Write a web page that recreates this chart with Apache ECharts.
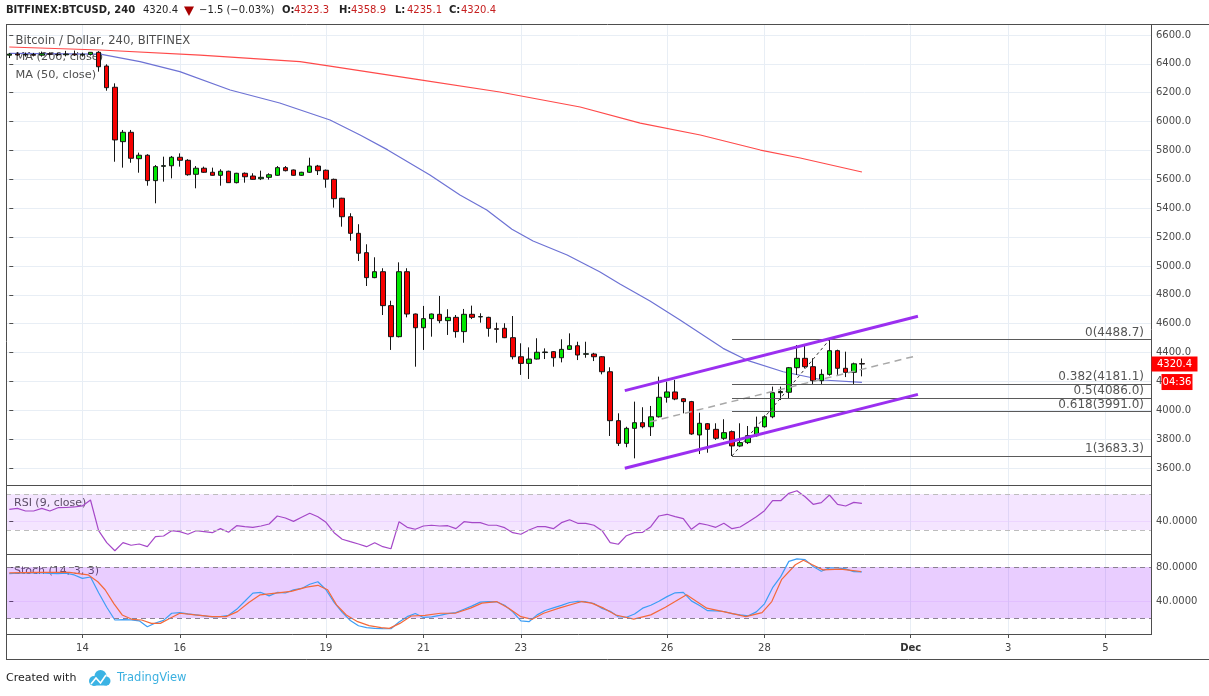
<!DOCTYPE html>
<html>
<head>
<meta charset="utf-8">
<script src="https://cdn.jsdelivr.net/npm/echarts@6/dist/echarts.min.js"></script>
<style>
  html, body { margin: 0; padding: 0; background: #fff; }
  #chart { width: 1209px; height: 696px; }
</style>
</head>
<body>
<div id="chart"></div>
<script>
// 4h candles, index 0 = Nov 12 12:00, index 105 = Nov 30 00:00. [open, high, low, close]
const ohlc = [
  [6460, 6475, 6440, 6468], [6468, 6480, 6455, 6462], [6462, 6478, 6450, 6465], [6465, 6476, 6452, 6460],
  [6460, 6485, 6450, 6470], [6470, 6480, 6458, 6466], [6466, 6475, 6455, 6463], [6463, 6490, 6452, 6468],
  [6468, 6492, 6455, 6462], [6462, 6478, 6450, 6466], [6466, 6482, 6458, 6480], [6480, 6488, 6346, 6380],
  [6385, 6397, 6214, 6235], [6238, 6265, 5722, 5873], [5861, 5942, 5681, 5926], [5926, 5942, 5715, 5746],
  [5743, 5785, 5646, 5767], [5767, 5774, 5556, 5591], [5591, 5699, 5434, 5688], [5690, 5757, 5584, 5695],
  [5694, 5762, 5607, 5753], [5753, 5780, 5688, 5732], [5732, 5740, 5625, 5632], [5635, 5692, 5538, 5677],
  [5677, 5688, 5645, 5649], [5649, 5681, 5625, 5628], [5628, 5670, 5556, 5656], [5656, 5660, 5575, 5577],
  [5577, 5645, 5572, 5642], [5642, 5648, 5577, 5618], [5623, 5642, 5598, 5600], [5604, 5660, 5595, 5614],
  [5614, 5642, 5598, 5632], [5628, 5692, 5625, 5681], [5681, 5692, 5655, 5660], [5665, 5668, 5625, 5628],
  [5628, 5652, 5624, 5649], [5649, 5750, 5645, 5692], [5692, 5700, 5630, 5660], [5663, 5668, 5542, 5601],
  [5600, 5605, 5404, 5466], [5469, 5472, 5272, 5341], [5341, 5365, 5175, 5226], [5226, 5289, 5034, 5088],
  [5092, 5150, 4861, 4919], [4919, 5060, 4915, 4960], [4960, 4984, 4660, 4725], [4725, 4759, 4418, 4510],
  [4510, 5025, 4505, 4960], [4960, 4984, 4644, 4667], [4667, 4670, 4302, 4572], [4572, 4723, 4418, 4635],
  [4635, 4670, 4510, 4667], [4665, 4792, 4603, 4621], [4621, 4700, 4522, 4644], [4644, 4660, 4503, 4545],
  [4545, 4702, 4468, 4665], [4665, 4725, 4632, 4644], [4647, 4672, 4607, 4649], [4644, 4648, 4510, 4568],
  [4565, 4607, 4468, 4561], [4568, 4603, 4500, 4503], [4503, 4653, 4353, 4371], [4371, 4464, 4245, 4325],
  [4325, 4436, 4217, 4355], [4355, 4499, 4352, 4402], [4400, 4429, 4355, 4404], [4406, 4410, 4302, 4364],
  [4364, 4492, 4332, 4422], [4422, 4533, 4418, 4447], [4447, 4475, 4348, 4383], [4388, 4475, 4364, 4392],
  [4390, 4398, 4341, 4371], [4371, 4375, 4249, 4267], [4267, 4298, 3822, 3928], [3928, 3979, 3753, 3771],
  [3771, 3886, 3744, 3875], [3875, 4060, 3667, 3914], [3914, 4021, 3875, 3886], [3886, 4030, 3822, 3955],
  [3955, 4233, 3950, 4090], [4090, 4198, 4053, 4127], [4127, 4210, 4070, 4078], [4080, 4085, 3979, 4060],
  [4060, 4065, 3830, 3836], [3829, 3983, 3697, 3910], [3907, 3912, 3706, 3868], [3868, 3910, 3794, 3806],
  [3806, 3938, 3795, 3845], [3852, 3860, 3683.3, 3753], [3753, 3910, 3745, 3776], [3776, 3891, 3766, 3824],
  [3824, 3956, 3818, 3882], [3886, 3965, 3880, 3955], [3955, 4164, 3945, 4122], [4122, 4164, 4071, 4130],
  [4125, 4300, 4078, 4295], [4295, 4452, 4245, 4360], [4360, 4452, 4290, 4302], [4302, 4360, 4182, 4205],
  [4205, 4284, 4175, 4249], [4249, 4488.7, 4240, 4413], [4413, 4420, 4245, 4291], [4291, 4406, 4230, 4263],
  [4263, 4330, 4182, 4321.9], [4323.3, 4358.9, 4235.1, 4320.4]
];

// moving averages: [candle index, price]
const ma200 = [[0, 6517], [11.2, 6496], [23.5, 6461], [35.8, 6415], [39.5, 6385], [50.2, 6293], [60.4, 6205],
  [70.3, 6101], [77.7, 5990], [85.1, 5907], [92.5, 5803], [97.4, 5748], [105, 5651]];
const ma50 = [[0, 6473], [11.2, 6468], [16.1, 6415], [21, 6346], [27.2, 6219], [33.3, 6129], [39.5, 6011],
  [43.2, 5907], [46.6, 5804], [51.8, 5630], [55.5, 5492], [58.8, 5388], [61.9, 5254], [64.5, 5173],
  [68.7, 5076], [72.7, 4960], [75.2, 4875], [78.9, 4757], [82.6, 4626], [87.9, 4429], [90.8, 4348],
  [95.3, 4267], [100.2, 4210], [105, 4194]];

// drawings
const channelUpper = [[75.8, 4136], [111.9, 4652]];
const channelLower = [[75.8, 3598], [111.9, 4110]];
const midTrend = [[78.9, 3920], [111.9, 4380]];
const fibFrom = 89, fibTo = 101;
const fibLevels = [0, 0.382, 0.5, 0.618, 1];
const fibPrices = [4488.7, 4181.1, 4086.0, 3991.0, 3683.3];

// indicators, one value per candle
const rsi = [
  53.1, 54.2, 51.3, 51.3, 54.2, 51.3, 55, 55.2, 55.8, 57,
  63.6, 29.2, 15.8, 6.8, 15.8, 12.9, 14.3, 11.3, 22.5, 23.3,
  29.2, 28.1, 25.2, 29.2, 28.1, 27, 31.5, 27.4, 34.8, 33.7,
  33, 34.5, 36.7, 45.7, 43.4, 39.7, 44.2, 48.7, 44.9, 38.6,
  27, 19.6, 16.9, 14.3, 11.3, 15.8, 11.3, 9.0, 39.3, 33,
  30.8, 34.5, 35.3, 34.5, 34.8, 31.5, 39.3, 38.2, 38.2, 35.3,
  35.3, 32.6, 27, 25.2, 30, 33.7, 33.7, 31.5, 38.2, 41.5,
  37.5, 37.5, 35.3, 29.2, 15.8, 14, 23.6, 27, 27.4, 33.7,
  45.7, 47.6, 44.9, 42.7, 30.8, 37.5, 35.6, 33, 37.5, 31.5,
  33.4, 39, 44.9, 51.6, 62.8, 62.8, 71.1, 74, 67.3, 58.8,
  60.6, 69.2, 58.8, 56.9, 61, 59.9
];
const stochK = [
  72.5, 73, 73.4, 73.4, 73.4, 72.8, 72.5, 73, 71, 67,
  68.6, 50, 33, 18, 18.4, 18.2, 17, 10, 14.5, 17.5,
  25.9, 26.6, 25.2, 24, 22.8, 21.5, 21.9, 23.6, 30.5, 40,
  49.6, 50.4, 46.4, 50.4, 49.8, 53.4, 55.1, 60, 63, 53.6,
  38.8, 27, 17.4, 11.2, 9, 8.2, 7.8, 7.7, 15.7, 21.9,
  25.6, 21, 21.7, 23.4, 25.4, 26.6, 30.7, 34.6, 39, 39.7,
  39.4, 35.3, 27.5, 17, 16, 24, 29.2, 32.2, 35.2, 38.6,
  39.9, 39.5, 37.4, 31.6, 28.2, 21.8, 21.2, 25, 31.9, 35.4,
  40, 45.5, 50, 50.4, 40.5, 35, 29, 28.7, 28, 25.5,
  24.1, 22.9, 27.5, 37, 56, 69, 87, 90, 89, 81,
  75.3, 79.3, 79.3, 78.2, 74.8, 74.5
];
const stochD = [[0, 73.4], [3.5, 74], [7.4, 74], [9.7, 71.1], [10.9, 63], [11.8, 53.6], [12.9, 37], [13.9, 23.9],
  [15.1, 18.8], [16.3, 18], [17.5, 14], [18.6, 14], [19.8, 20], [21, 25.9], [22.9, 23.9], [25, 21.9],
  [26.7, 21.9], [28.1, 27.8], [29.5, 38.5], [30.9, 47.6], [32.8, 49.6], [34.7, 51.6], [36.6, 56.7], [38, 58.8],
  [39.2, 53.6], [40.3, 35.8], [41.5, 23.9], [42.9, 16], [44.3, 11.3], [45.8, 8.9], [46.8, 8.1], [48.1, 14],
  [49.5, 22.7], [51.2, 23.5], [53.1, 25.9], [54.9, 25.9], [56.8, 31.9], [58.2, 37.8], [60, 39.7], [61.5, 31.9],
  [63, 21.9], [64.4, 18.8], [65.8, 25.9], [67.7, 31.9], [70.5, 39.7], [71.7, 37.8], [73.2, 31.9], [74.7, 23.9],
  [76.9, 19], [79, 24], [80.8, 33], [83.4, 47.6], [85.9, 31.9], [88.8, 26], [90.7, 21.9], [92.7, 26.6],
  [93.9, 39.7], [95.1, 65.4], [96.8, 83], [97.8, 88.3], [98.9, 83], [100.2, 77], [102.4, 77.8], [103.9, 76.2],
  [104.9, 75]];

// axes
const dayTickIdx = [9, 21, 39, 51, 63, 81, 93, 111, 123, 135];
const dayTickText = ['14', '16', '19', '21', '23', '26', '28', 'Dec', '3', '5'];
const priceTicks = [3600, 3800, 4000, 4200, 4400, 4600, 4800, 5000, 5200, 5400, 5600, 5800, 6000, 6200, 6400, 6600];
const rsiTicks = [40];
const stochTicks = [40, 80];
const countdown = '04:36';

const X_MIN = -0.406, X_MAX = 140.6;
const FONT = "'DejaVu Sans', sans-serif";
const GRID_C = '#e8eef5';
const FRAME_C = '#4e4e4e';
const TXT_C = '#555';

const chart = echarts.init(document.getElementById('chart'), null, { renderer: 'canvas' });

const xAxisBase = (gi, bottom) => ({
  type: 'value', gridIndex: gi, min: X_MIN, max: X_MAX,
  axisLine: { show: false },
  axisTick: { show: bottom, customValues: dayTickIdx, length: 4, lineStyle: { color: FRAME_C } },
  axisLabel: {
    show: bottom, customValues: dayTickIdx, margin: 9,
    color: '#444', fontSize: 10, fontFamily: FONT,
    formatter: v => {
      const t = dayTickText[dayTickIdx.indexOf(v)];
      return t === 'Dec' ? '{b|Dec}' : t;
    },
    rich: { b: { fontWeight: 'bold', fontSize: 10, fontFamily: FONT, color: '#333' } }
  },
  splitLine: { show: true, lineStyle: { color: GRID_C, width: 1 } }
});

const yAxisBase = (gi, min, max, ticks, digits, splitColor) => ({
  type: 'value', gridIndex: gi, position: 'right', min, max,
  axisLine: { show: false },
  axisTick: { show: true, customValues: ticks, length: 4, lineStyle: { color: FRAME_C } },
  axisLabel: {
    customValues: ticks, margin: 5, color: '#4a4a4a', fontSize: 10, fontFamily: FONT,
    formatter: v => v.toFixed(digits)
  },
  splitLine: { show: true, lineStyle: { color: splitColor, width: 1 } }
});

const plainLine = (data, color, width, type, extra) => Object.assign({
  type: 'line', xAxisIndex: 0, yAxisIndex: 0, data,
  symbol: 'none', silent: true, animation: false,
  lineStyle: { color, width, type: type || 'solid' }
}, extra || {});

// fib retracement levels as mark lines, label at the right end above the line
const fibMarks = {
  silent: true, symbol: 'none', animation: false,
  lineStyle: { color: '#5a5a5a', width: 1, type: 'solid' },
  label: { show: true, position: 'insideEndTop', distance: [7, 1], color: TXT_C, fontSize: 12, fontFamily: FONT },
  emphasis: { disabled: true },
  data: fibLevels.map((lv, k) => [
    { coord: [fibFrom, fibPrices[k]], label: { formatter: lv + '(' + fibPrices[k].toFixed(1) + ')' } },
    { coord: [X_MAX, fibPrices[k]] }
  ])
};

const option = {
  animation: false,
  backgroundColor: '#fff',
  grid: [
    { left: 6, right: 58, top: 24, height: 461.3 },
    { left: 6, right: 58, top: 485.3, height: 69 },
    { left: 6, right: 58, top: 554.3, height: 79.7 }
  ],
  xAxis: [xAxisBase(0, false), xAxisBase(1, false), xAxisBase(2, true)],
  yAxis: [
    yAxisBase(0, 3480.3, 6676.2, priceTicks, 1, GRID_C),
    yAxisBase(1, 2.77, 80.08, rsiTicks, 4, 'rgba(153,21,255,0.08)'),
    yAxisBase(2, 1.5, 95.3, stochTicks, 4, 'rgba(153,21,255,0.08)')
  ],
  series: [
    plainLine(ma200, '#ff4a4a', 1.2, 'solid', { z: 2 }),
    plainLine(ma50, '#6d72d4', 1.2, 'solid', { z: 2 }),
    {
      type: 'candlestick', xAxisIndex: 0, yAxisIndex: 0, z: 3,
      data: ohlc.map((d, i) => [i, d[0], d[3], d[2], d[1]]),
      encode: { x: 0, y: [1, 2, 3, 4] },
      barWidth: 5,
      itemStyle: { color: '#00e600', color0: '#f50000', borderColor: '#151515', borderColor0: '#151515', borderWidth: 1 }
    },
    plainLine([[fibFrom, ohlc[fibFrom][2]], [fibTo, ohlc[fibTo][1]]], '#333', 1, [3, 3], { z: 4, markLine: fibMarks }),
    plainLine(midTrend, '#a8a8a8', 1.5, [7, 5], { z: 4 }),
    plainLine(channelUpper, '#9b2ff0', 3, 'solid', { z: 5 }),
    plainLine(channelLower, '#9b2ff0', 3, 'solid', { z: 5 }),
    {
      type: 'line', xAxisIndex: 1, yAxisIndex: 1, symbol: 'none', silent: true,
      data: rsi.map((v, i) => [i, v]),
      lineStyle: { color: '#a548c8', width: 1.2 },
      markArea: { silent: true, itemStyle: { color: 'rgba(153,21,255,0.11)' }, data: [[{ yAxis: 30 }, { yAxis: 70 }]] },
      markLine: {
        silent: true, symbol: 'none', label: { show: false },
        lineStyle: { color: '#bdbdbd', type: [5, 4], width: 1 },
        data: [{ yAxis: 30 }, { yAxis: 70 }]
      }
    },
    {
      type: 'line', xAxisIndex: 2, yAxisIndex: 2, symbol: 'none', silent: true,
      data: stochK.map((v, i) => [i, v]),
      lineStyle: { color: '#3d9ef5', width: 1.2 },
      markArea: { silent: true, itemStyle: { color: 'rgba(153,21,255,0.21)' }, data: [[{ yAxis: 20 }, { yAxis: 80 }]] },
      markLine: {
        silent: true, symbol: 'none', label: { show: false },
        lineStyle: { color: '#8a8090', type: [5, 4], width: 1 },
        data: [{ yAxis: 20 }, { yAxis: 80 }]
      }
    },
    {
      type: 'line', xAxisIndex: 2, yAxisIndex: 2, symbol: 'none', silent: true,
      data: stochD,
      lineStyle: { color: '#f4693a', width: 1.2 }
    }
  ]
};

chart.setOption(option);

// texts, frame and price tag
const last = ohlc[ohlc.length - 1];
const prevClose = ohlc[ohlc.length - 2][3];
const chg = last[3] - prevClose;
const chgTxt = (chg < 0 ? '\u2212' : '+') + Math.abs(chg).toFixed(1) +
  ' (' + (chg < 0 ? '\u2212' : '+') + Math.abs(chg / prevClose * 100).toFixed(2) + '%)';
const yLast = chart.convertToPixel({ yAxisIndex: 0 }, last[3]);

const txt = (x, y, text, size, color, weight, extra) => Object.assign({
  type: 'text', z: 0,
  style: { x, y, text, fill: color, fontSize: size, fontFamily: FONT, fontWeight: weight || 'normal',
    align: 'left', verticalAlign: 'middle' }
}, extra || {});
const ln = (x1, y1, x2, y2) => ({
  type: 'line', z: 50, shape: { x1, y1, x2, y2 }, style: { stroke: FRAME_C, lineWidth: 1 }
});

const ohlcNames = ['O:', 'H:', 'L:', 'C:'];
const ohlcVals = [last[0], last[1], last[2], last[3]];
const ohlcX = [282, 339, 395, 449];

const graphics = [
  txt(6, 10, 'BITFINEX:BTCUSD, 240', 10, '#222', 'bold'),
  txt(143, 10, last[3].toFixed(1), 10, '#222'),
  { type: 'polygon', shape: { points: [[184, 6.5], [194, 6.5], [189, 16]] }, style: { fill: '#a80000' } },
  txt(199, 10, chgTxt, 10, '#222'),
  ...ohlcNames.map((n, k) => txt(ohlcX[k], 10, n, 10, '#222', 'bold')),
  ...ohlcVals.map((v, k) => txt(ohlcX[k] + 12, 10, v.toFixed(1), 10, '#c62020')),

  txt(15.5, 41, 'Bitcoin / Dollar, 240, BITFINEX', 11.6, '#4f4f4f'),
  txt(15.5, 57.5, 'MA (200, close)', 11.3, '#4f4f4f'),
  txt(15.5, 75, 'MA (50, close)', 11.3, '#4f4f4f'),
  txt(14, 503.5, 'RSI (9, close)', 11, TXT_C),
  txt(14, 571.5, 'Stoch (14, 3, 3)', 11, TXT_C),

  ln(6, 24.5, 1209, 24.5),
  ln(6.5, 24, 6.5, 659),
  ln(6, 659.5, 1209, 659.5),
  ln(6, 485.5, 1151, 485.5),
  ln(6, 554.5, 1151, 554.5),
  ln(6, 634.5, 1151, 634.5),
  ln(1151.5, 24, 1151.5, 635),

  { type: 'rect', z: 60, shape: { x: 1151.5, y: yLast - 7.5, width: 46, height: 15 }, style: { fill: '#ff0000' } },
  txt(1174.5, yLast, last[3].toFixed(1), 10, '#fff', 'normal', { z: 61 }),
  { type: 'rect', z: 60, shape: { x: 1161.5, y: yLast + 10, width: 31, height: 16 }, style: { fill: '#ff0000' } },
  txt(1177, yLast + 18, countdown, 10, '#fff', 'normal', { z: 61 }),

  txt(6, 678, 'Created with', 11, '#222'),
  { type: 'circle', shape: { cx: 94, cy: 681, r: 5 }, style: { fill: '#3bb3e4' } },
  { type: 'circle', shape: { cx: 100.5, cy: 676, r: 6 }, style: { fill: '#3bb3e4' } },
  { type: 'circle', shape: { cx: 106, cy: 681, r: 4.5 }, style: { fill: '#3bb3e4' } },
  { type: 'rect', shape: { x: 93, y: 680, width: 14, height: 5.5 }, style: { fill: '#3bb3e4' } },
  { type: 'polyline', shape: { points: [[91, 684], [96, 678], [100.5, 683], [106, 675]] },
    style: { stroke: '#fff', lineWidth: 1.6, fill: null } },
  txt(117, 678, 'TradingView', 11.5, '#3bb0e0')
];
// center the tag texts
graphics.filter(g => g.type === 'text' && g.z === 61).forEach(g => { g.style.align = 'center'; });

chart.setOption({ graphic: graphics });
</script>
</body>
</html>
